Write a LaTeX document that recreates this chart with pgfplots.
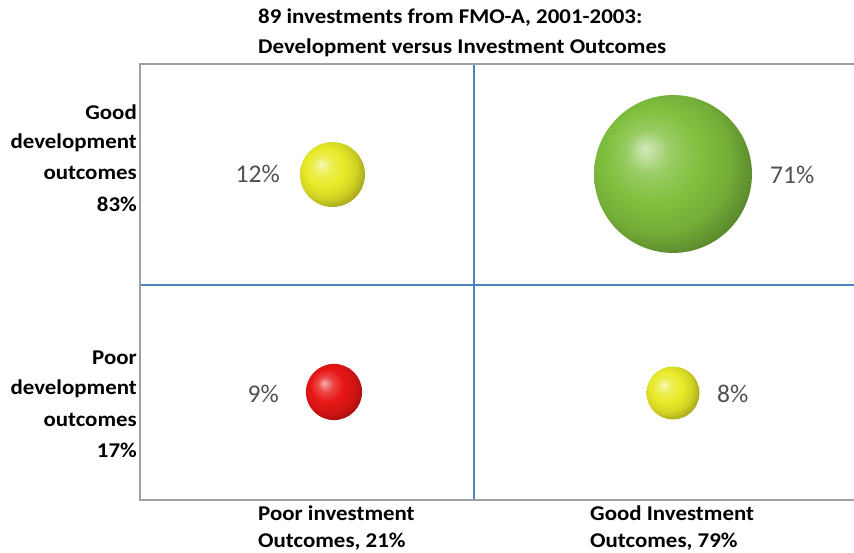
\documentclass[border=0pt]{standalone}
\usepackage{pgfplots}
\pgfplotsset{compat=1.18}
\usepackage{fontspec}
\setmainfont{Carlito}
\newfontfamily\wide[FakeStretch=1.09]{Carlito}
\definecolor{frame}{RGB}{160,160,160}
\definecolor{quad}{RGB}{79,129,189}
\definecolor{ballyellow}{RGB}{232,234,40}
\definecolor{ballgreen}{RGB}{128,192,62}
\definecolor{ballred}{RGB}{232,22,22}
\definecolor{lbl}{RGB}{80,80,80}
\makeatletter
\pgfdeclareradialshading[tikz@ball]{ball}{\pgfqpoint{-9bp}{8bp}}{%
 color(0bp)=(tikz@ball!35!white);
 color(7bp)=(tikz@ball!80!white);
 color(15bp)=(tikz@ball);
 color(23bp)=(tikz@ball!90!black);
 color(30bp)=(tikz@ball!70!black);
 color(37bp)=(tikz@ball!48!black);
 color(50bp)=(tikz@ball!45!black)}
\makeatother
\pgfplotsset{
  bubble/.style={only marks, mark=ball, mark options={draw opacity=0, ball color=#1}}
}
% bubble radius (pt) = 9.37 * sqrt(share in %)
\begin{document}
\begin{tikzpicture}[x=1pt,y=1pt]
\begin{axis}[at={(0,0)}, anchor=south west, scale only axis,
  width=714pt, height=436pt, xmin=0, xmax=714, ymin=0, ymax=436,
  hide axis, clip=false]
\draw[quad, line width=1.6pt] (axis cs:334,0) -- (axis cs:334,436);
\draw[quad, line width=1.6pt] (axis cs:0,215) -- (axis cs:714,215);
\draw[frame, line width=2.4pt] (axis cs:714,436) -- (axis cs:0,436) -- (axis cs:0,0) -- (axis cs:714,0);
% good dev / poor inv: 12%
\addplot[bubble=ballyellow, mark size=32.46pt] coordinates {(192.5,325.5)};
% good dev / good inv: 71%
\addplot[bubble=ballgreen, mark size=78.95pt] coordinates {(533,326)};
% poor dev / poor inv: 9%
\addplot[bubble=ballred, mark size=28.11pt] coordinates {(194,108)};
% poor dev / good inv: 8%
\addplot[bubble=ballyellow, mark size=26.50pt] coordinates {(533,107)};
\end{axis}
\begin{scope}[every node/.style={inner sep=0pt, font=\fontsize{25.5}{28}\selectfont, text=lbl}]
\node[anchor=base east] at (140,317) {12\%};
\node[anchor=base west] at (630,316) {71\%};
\node[anchor=base east] at (139,97.5) {9\%};
\node[anchor=base west] at (577,97.5) {8\%};
\end{scope}
\begin{scope}[every node/.style={inner sep=0pt, font=\wide\fontsize{21}{24}\selectfont\bfseries, text=black}]
\node[anchor=base west] at (118,476) {89 investments from FMO-A, 2001-2003:};
\node[anchor=base west] at (118,446) {Development versus Investment Outcomes};
\node[anchor=base east] at (-3,380) {Good};
\node[anchor=base east] at (-3,351) {development};
\node[anchor=base east] at (-3,320) {outcomes};
\node[anchor=base east] at (-3,288) {83\%};
\node[anchor=base east] at (-3,135) {Poor};
\node[anchor=base east] at (-3,105) {development};
\node[anchor=base east] at (-3,73) {outcomes};
\node[anchor=base east] at (-3,42) {17\%};
\node[anchor=base west] at (118,-21) {Poor investment};
\node[anchor=base west] at (118,-48) {Outcomes, 21\%};
\node[anchor=base west] at (450,-21) {Good Investment};
\node[anchor=base west] at (450,-48) {Outcomes, 79\%};
\end{scope}
\pgfresetboundingbox
\path (-140,-53) rectangle (714,500);
\end{tikzpicture}
\end{document}
